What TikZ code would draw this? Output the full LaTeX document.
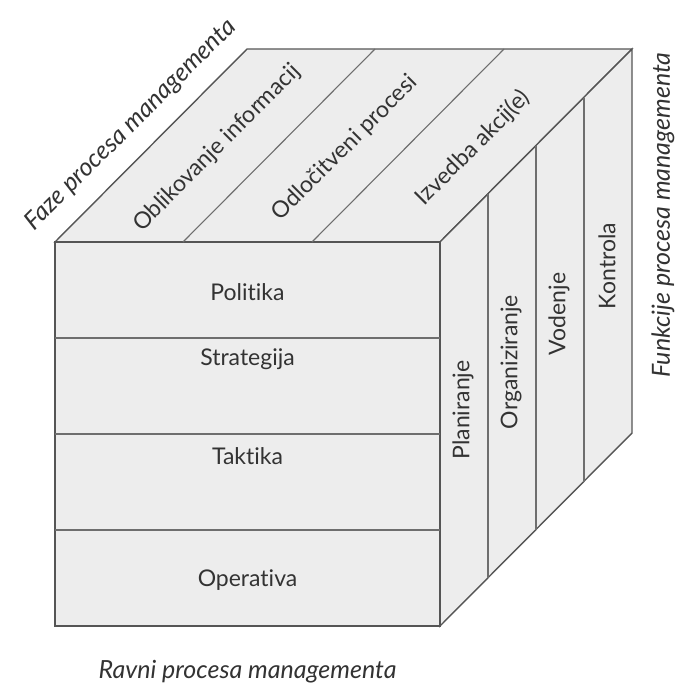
\documentclass[tikz,border=0pt]{standalone}
\usepackage{fontspec}
\setmainfont{Lato}[Ligatures={NoCommon}]
\begin{document}
\begin{tikzpicture}[x=1pt,y=-1pt,
  face/.style={fill=facegray,draw=edgegray,line width=1.4pt,line join=miter},
  divider/.style={draw=edgegray!85,line width=1.1pt},
  lbl/.style={font=\fontsize{23}{25}\selectfont,text=black!80,inner sep=0pt},
  axislbl/.style={font=\fontsize{25}{27}\selectfont\itshape,text=black!80,inner sep=0pt}]
\definecolor{facegray}{HTML}{EDEDED}
\definecolor{edgegray}{HTML}{555555}
\useasboundingbox (0,0) rectangle (689,686);
\fill[white] (0,0) rectangle (689,686);

% cube corners: front face and the back edge offset by (192,-193)
\coordinate (A) at (55,242);
\coordinate (B) at (440,242);
\coordinate (C) at (440,626);
\coordinate (D) at (55,626);
\coordinate (E) at (247,49);
\coordinate (F) at (632,49);
\coordinate (G) at (632,433);

% faces
\path[face] (A) -- (B) -- (F) -- (E) -- cycle;
\path[face] (B) -- (F) -- (G) -- (C) -- cycle;
\path[face] (A) -- (B) -- (C) -- (D) -- cycle;

% front face: four levels
\foreach \y in {338,434,530} \draw[divider] (55,\y) -- (440,\y);
% top face: three phases
\foreach \x in {183,312} \draw[divider] (\x,242) -- ++(192,-193);
% right face: four functions
\foreach \k in {1,2,3} \draw[divider] (440+48*\k,242-48*\k) -- (440+48*\k,626-48*\k);

% level labels
\node[lbl] (politika)   at (247.5,292) {Politika};
\node[lbl] (strategija) at (247.5,359) {Strategija};
\node[lbl] (taktika)    at (247.5,456) {Taktika};
\node[lbl] (operativa)  at (247.5,580) {Operativa};

% phase labels
\node[lbl,rotate=45] (oblik)  at (217,148) {Oblikovanje informacij};
\node[lbl,rotate=45] (odloc)  at (345,148) {Odločitveni procesi};
\node[lbl,rotate=45] (izved)  at (473,148) {Izvedba akcij(e)};

% function labels
\node[lbl,rotate=90] (plan)  at (463,410) {Planiranje};
\node[lbl,rotate=90] (org)   at (511,362) {Organiziranje};
\node[lbl,rotate=90] (vod)   at (559,314) {Vodenje};
\node[lbl,rotate=90] (kon)   at (607,266) {Kontrola};

% axis captions
\node[axislbl,rotate=45] (faze)  at (131,125) {Faze procesa managementa};
\node[axislbl,rotate=90] (funk)  at (663,215) {Funkcije procesa managementa};
\node[axislbl]           (ravni) at (247.5,672) {Ravni procesa managementa};
\end{tikzpicture}
\end{document}
